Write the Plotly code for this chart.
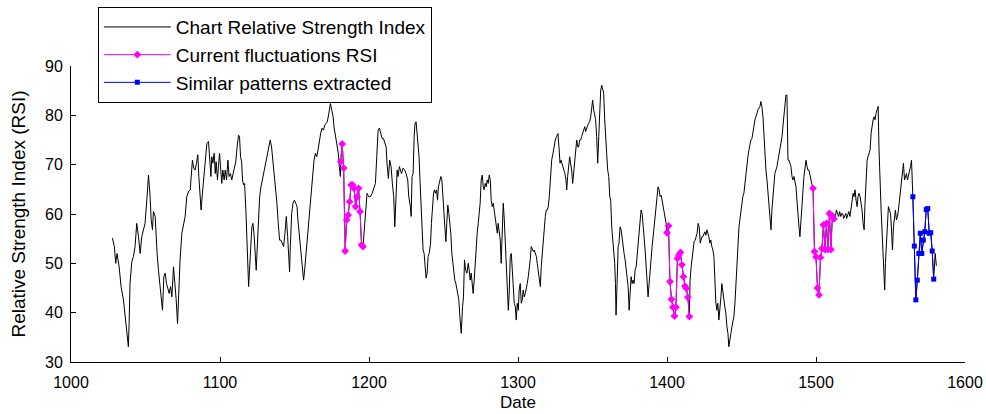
import plotly.graph_objects as go

# ---- data (date, RSI) ----
seg1 = [(1027.8,55.1),(1029.1,53.4),(1030.0,50.0),(1030.9,52.0),(1032.3,49.3),(1033.6,45.3),(1035.2,42.6),(1036.7,38.5),(1037.4,37.2),(1038.5,33.1),(1039.0,37.8),(1039.6,45.9),(1040.8,50.3),(1041.9,51.4),(1043.0,53.4),(1044.1,58.1),(1045.3,55.4),(1046.4,52.0),(1047.5,55.4),(1048.6,56.8),(1049.7,58.1),(1050.9,62.8),(1052.0,67.9),(1053.1,63.5),(1053.8,58.8),(1054.7,56.8),(1055.3,60.5),(1056.5,59.5),(1056.9,56.1),(1057.8,52.0),(1058.7,48.6),(1059.8,45.3),(1060.9,43.2),(1061.4,40.5),(1062.3,47.3),(1063.2,48.0),(1064.1,45.9),(1065.0,44.6),(1065.9,43.9),(1066.8,45.3),(1067.7,43.2),(1068.8,49.3),(1069.9,45.9),(1070.6,42.6),(1071.5,37.8),(1072.1,42.6),(1073.2,50.7),(1074.4,56.1),(1075.5,58.1),(1076.6,59.5),(1077.7,63.5),(1078.8,64.5),(1080.0,64.9),(1080.6,67.6),(1081.5,70.9),(1082.4,69.3),(1083.3,68.9),(1084.2,70.3),(1085.1,72.0),(1085.8,67.6),(1086.7,62.8),(1087.3,60.8),(1088.2,64.2),(1089.1,67.6),(1090.0,71.6),(1091.2,74.3),(1092.3,74.7),(1093.0,71.6),(1093.9,67.6),(1094.5,71.6),(1095.2,70.3),(1096.1,72.3),(1096.8,68.2),(1097.4,70.6),(1098.3,66.9),(1099.0,69.9),(1099.7,72.3),(1100.6,68.6),(1101.2,66.2),(1101.9,68.9),(1102.8,66.9),(1103.5,68.9),(1104.4,66.9),(1105.3,70.9),(1106.1,67.6),(1107.0,68.2),(1107.9,66.9),(1108.8,68.2),(1109.7,69.6),(1110.6,70.6),(1111.5,73.6),(1112.4,76.0),(1113.1,75.7),(1113.8,71.6),(1114.5,70.6),(1115.1,66.9),(1115.8,65.9),(1116.5,66.2),(1117.4,60.5),(1118.1,54.7),(1118.5,50.0),(1119.2,45.3),(1119.8,48.6),(1120.5,53.4),(1121.4,57.4),(1122.1,58.1),(1122.8,56.1),
        (1124.3,48.6),(1125.2,53.4),(1125.9,59.5),(1126.6,63.5),(1127.5,65.5),(1128.4,66.9),(1129.3,68.9),(1130.2,70.3),(1131.1,70.9),(1132.0,72.3),(1132.8,73.6),(1133.7,75.0),(1134.6,73.6),(1135.5,70.9),(1136.4,67.6),(1137.3,64.9),(1138.2,62.2),(1139.1,58.1),(1140.0,54.7),(1140.9,54.7),(1141.8,54.1),(1142.7,53.4),(1143.6,56.1),(1144.5,59.5),(1145.4,55.4),(1146.1,51.4),(1146.7,48.3),(1147.2,53.4),(1148.1,60.1),(1149.0,62.2),(1149.9,62.8),(1150.8,62.2),(1151.7,61.5),(1152.3,58.8),(1153.2,56.1),(1153.9,54.1),(1154.8,52.0),(1155.5,49.3),(1156.1,46.6),(1156.8,48.6),(1157.7,52.0),(1158.6,55.4),(1159.5,58.1),(1160.4,61.5),(1161.3,64.9),(1162.2,68.2),(1163.1,70.9),(1164.0,72.3),(1164.9,71.6),(1165.8,73.0),(1166.7,75.0),(1167.6,76.4),(1168.5,77.4),(1169.4,77.0),(1170.3,78.0),(1171.1,78.4),(1172.0,78.7),(1172.9,80.1),(1174.1,82.4),(1175.0,81.1),(1175.9,79.7),(1176.5,77.7),(1177.2,76.4),(1177.9,75.7),(1178.8,74.3),(1179.4,72.3),(1180.1,69.6),(1180.8,67.6)]

current1_date = [1181,1182,1183,1184,1185,1186,1187,1188,1189,1190,1191,1192,1193,1194,1195,1196]
current1_rsi = [70.6,74.2,69.3,52.5,58.8,59.8,62.5,65.9,65.9,65.2,61.5,63.5,65.2,60.5,53.7,53.4]

seg2 = [(1197.6,59.5),(1198.7,64.2),(1199.8,63.5),(1200.9,63.5),(1202.1,64.2),(1203.2,65.5),(1204.3,66.2),(1205.2,71.6),(1206.1,77.0),(1207.0,77.4),(1207.9,76.0),(1208.8,75.3),(1209.7,75.3),(1210.6,74.3),(1211.5,73.6),(1212.1,70.3),(1213.0,67.2),(1213.9,70.9),(1214.8,69.6),(1215.7,66.2),(1216.6,63.5),(1217.3,57.4),(1217.9,63.5),(1218.9,68.9),(1219.5,67.6),(1220.4,69.6),
        (1221.8,68.2),(1222.9,69.3),(1224.0,68.9),(1224.9,68.2),(1226.0,66.9),(1226.7,63.5),(1227.8,61.5),(1228.3,59.5),(1228.9,67.6),(1229.6,68.2),(1230.3,75.7),(1230.9,78.4),(1231.6,78.7),(1232.3,76.3),(1233.0,73.6),(1233.6,71.6),(1234.3,66.2),(1235.0,60.1),(1235.7,56.8),(1236.3,52.7),(1237.0,52.0),(1237.7,49.3),(1238.3,47.0),(1239.0,48.0),(1239.7,51.4),(1240.4,52.0),(1241.3,54.0),(1241.9,58.1),(1242.6,62.2),(1243.3,64.2),(1243.9,64.9),(1244.6,64.2),(1245.3,64.9),(1246.0,62.8),(1246.6,65.5),(1247.5,66.9),(1248.2,67.6),(1248.9,66.9),(1249.5,62.8),(1250.2,60.8),(1250.9,57.4),(1251.6,54.4),(1252.2,58.1),(1252.9,61.8),(1253.6,60.1),(1254.3,58.1),(1254.9,56.1),(1255.6,52.0),(1256.3,50.0),(1256.9,48.7),(1257.6,46.6),(1258.3,45.9),(1259.0,44.6),(1259.6,43.2),(1260.3,42.6),(1261.0,39.2),(1261.9,35.8),(1262.8,41.2),(1263.4,43.2),(1264.1,50.7),(1264.8,48.7),(1265.7,48.0),(1266.6,50.0),(1267.2,48.7),(1267.9,46.6),(1268.6,48.0),(1269.3,45.9),(1269.9,43.9),(1270.6,46.6),(1271.3,50.7),(1271.9,52.7),(1272.6,56.1),(1273.3,58.1),(1274.0,60.8),(1274.6,62.2),(1275.3,66.9),(1276.0,67.9),(1276.7,65.5),(1277.3,64.9),(1278.0,66.2),(1278.7,65.5),(1279.3,66.9),(1280.0,66.2),(1280.7,67.9),(1281.4,66.9),(1282.0,62.8),(1282.7,61.5),(1283.4,62.2),(1284.0,60.8),(1284.7,60.1),(1285.4,57.4),(1286.1,56.1),(1286.7,58.1),(1287.4,56.8),(1288.1,54.7),(1288.7,50.0),(1289.4,57.4),(1290.1,62.2),(1290.8,58.8),(1291.4,54.1),(1292.1,48.7),(1292.8,45.9),(1293.5,40.5),(1294.1,43.9),(1294.8,51.4),(1295.5,52.0),(1296.1,48.7),(1296.8,47.3),(1297.5,41.9),(1298.2,41.2),(1298.8,38.5),(1299.5,41.9),(1300.2,40.5),(1300.8,44.6),(1301.5,45.9),(1302.2,41.9),(1302.9,42.6),(1303.5,44.6),(1304.2,43.2),(1304.9,43.9),(1305.5,45.3),(1306.2,45.9),(1306.9,47.3),(1307.6,48.7),(1308.2,50.7),(1308.9,53.4),(1309.6,52.7),(1310.3,52.4),(1310.9,52.7),(1311.6,52.0),(1312.3,51.4),(1312.9,50.0),(1313.6,48.0),(1314.3,46.6),(1315.0,45.3),(1315.6,49.3),(1316.3,52.7),(1317.0,54.1),(1317.6,56.8),(1318.3,59.5),(1319.0,60.8),(1319.7,60.8),(1320.3,61.5),(1321.0,63.5),(1321.7,66.2),
        (1322.6,70.9),(1323.5,72.3),(1324.2,73.6),(1325.0,75.0),(1325.9,75.7),(1326.8,76.3),(1327.5,73.6),(1328.2,70.3),(1328.9,70.9),(1329.5,70.3),(1330.2,69.6),(1330.9,68.9),(1331.5,68.2),(1332.2,66.9),(1332.7,64.9),(1333.3,67.6),(1334.0,69.6),(1334.7,71.6),(1335.3,70.3),(1336.0,68.9),(1336.7,66.2),(1337.4,68.9),(1338.0,70.9),(1338.7,73.0),(1339.4,75.0),(1340.1,73.6),(1340.7,73.6),(1341.4,75.0),(1342.1,75.0),(1342.7,75.7),(1343.4,76.3),(1344.1,77.0),(1344.8,77.7),(1345.4,76.7),(1346.1,77.7),(1346.8,78.0),(1347.4,78.4),(1348.1,78.7),(1348.8,79.7),(1349.5,81.1),(1350.1,83.1),(1350.8,81.1),(1351.5,79.7),(1352.1,79.1),(1352.8,75.7),(1353.5,70.3),(1354.2,75.7),(1354.8,82.4),(1355.5,85.1),(1356.2,86.1),(1356.9,84.8),(1357.5,84.5),(1358.2,79.1),(1358.9,74.3),(1359.5,72.3),(1360.2,68.9),(1360.9,67.6),(1361.6,63.5),(1362.2,62.8),(1362.9,57.4),(1363.6,54.7),(1364.2,51.4),(1364.9,50.0),(1365.4,45.9),(1365.8,39.5),(1366.5,45.9),(1367.2,53.4),(1367.8,54.1),(1368.5,57.4),(1369.2,56.8),(1369.9,54.7),(1370.5,52.7),(1371.2,52.0),(1371.9,50.7),(1372.5,48.7),(1373.2,47.3),(1373.9,45.3),(1374.6,40.5),(1375.2,43.9),(1375.9,47.3),(1376.6,45.9),(1377.2,46.6),(1377.9,45.9),(1378.6,48.7),(1379.3,49.3),(1379.9,51.4),(1380.6,54.1),(1381.3,56.8),(1381.9,58.8),(1382.6,60.8),(1383.3,60.1),(1384.0,58.1),(1384.6,55.4),(1385.3,52.7),(1386.0,49.3),(1386.6,45.9),(1387.3,43.2),(1388.0,45.9),(1388.7,49.3),(1389.3,51.4),(1390.0,53.4),(1390.7,55.4),(1391.4,57.4),(1392.0,59.5),(1392.7,61.5),(1393.4,63.5),(1394.0,65.5),(1394.7,64.9),(1395.4,63.5),(1396.1,63.8),(1396.7,62.8),(1397.4,62.2),(1398.1,60.8),(1398.7,59.5),(1399.4,58.1)]

current2_date = [1400,1401,1402,1403,1404,1405,1406,1407,1408,1409,1410,1411,1412,1413,1414,1415]
current2_rsi = [56.2,57.6,46.3,42.7,41.1,39.3,41.1,51.0,51.7,52.2,49.7,47.3,45.4,44.9,43.1,39.2]

seg3 = [(1415.5,46.6),(1416.2,49.3),(1416.9,51.4),(1417.6,53.4),(1418.2,54.4),(1418.9,54.7),(1419.6,55.4),(1420.2,56.1),(1420.9,58.1),(1421.6,57.4),(1422.3,54.1),
        (1423.4,55.4),(1424.1,55.4),(1424.7,56.1),(1425.4,56.4),(1426.1,55.7),(1426.8,56.8),(1427.4,56.1),(1428.1,55.4),(1428.8,54.1),(1429.4,54.7),(1430.1,53.4),(1430.8,52.7),(1431.5,51.4),(1432.1,45.9),(1432.8,41.9),(1433.5,40.5),(1434.1,41.9),(1434.8,38.5),(1435.5,40.5),(1436.2,43.2),(1436.8,45.9),(1437.5,44.6),(1438.2,42.6),(1438.8,41.2),(1439.5,39.9),(1440.2,37.2),(1440.9,35.8),(1441.5,33.1),(1442.2,35.1),(1442.9,35.8),(1443.6,37.2),(1444.2,37.9),(1444.9,39.2),(1445.6,41.9),(1446.2,45.9),(1446.9,50.7),(1447.6,54.1),(1448.3,57.4),(1448.9,58.8),(1449.6,60.8),(1450.3,61.5),(1450.9,63.5),(1451.6,64.2),(1452.3,66.2),(1453.0,68.9),(1453.6,70.3),(1454.3,71.6),(1455.0,73.0),(1455.7,74.3),(1456.3,75.0),(1457.0,75.3),(1457.7,76.3),(1458.3,77.7),(1459.0,79.1),(1459.7,80.1),(1460.4,80.4),(1461.0,81.1),(1461.7,81.4),(1462.4,81.8),(1463.0,82.8),(1463.7,81.8),(1464.4,79.7),(1465.1,75.7),(1465.7,71.6),(1466.4,68.9),(1467.1,66.9),(1467.7,64.2),(1468.4,62.2),(1469.1,60.1),(1469.8,56.8),(1470.4,60.8),(1471.1,64.2),(1471.8,66.9),(1472.4,68.2),(1473.1,68.9),(1473.8,69.6),(1474.5,70.9),(1475.1,71.9),(1475.8,73.0),(1476.5,74.3),(1477.2,75.7),(1477.8,77.7),(1478.5,79.7),(1479.2,83.1),(1479.8,84.1),(1480.5,84.1),(1481.2,70.9),(1481.9,70.9),(1482.5,70.3),(1483.2,69.6),(1483.9,67.6),(1484.5,66.9),(1485.2,67.6),(1485.9,66.2),(1486.6,65.5),(1487.2,62.8),(1487.9,60.8),(1488.6,57.4),(1489.2,55.4),(1489.9,59.5),(1490.6,62.2),(1491.3,64.9),(1491.9,67.6),(1492.6,69.6),(1493.3,70.9),(1494.0,69.6),(1494.6,68.9),(1495.3,68.9),(1496.0,67.6),(1496.6,66.9),(1497.3,65.9)]

current3_date = [1498,1499,1500,1501,1502,1503,1504,1505,1506,1507,1508,1509,1510,1511,1512]
current3_rsi = [65.2,52.4,51.3,45.0,43.6,51.2,53.0,57.8,52.8,58.1,52.8,60.1,52.8,59.6,59.0]

seg4 = [(1513.0,59.5),(1513.7,60.8),(1514.6,60.1),(1515.2,59.5),(1515.9,60.5),(1516.6,59.5),(1517.3,60.1),(1517.9,60.1),(1518.6,59.1),(1519.3,59.5),(1520.0,60.1),(1520.6,59.1),(1521.3,59.8),(1522.0,60.5),(1522.8,59.5),(1523.5,60.8),(1524.2,62.2),(1524.9,64.2),(1525.5,63.5),(1526.2,64.9),(1526.9,62.8),(1527.6,61.5),(1528.2,63.5),(1528.9,64.2),(1529.6,63.5),(1530.2,62.2),(1530.9,60.8),(1531.6,58.1),(1532.3,56.8),(1532.9,62.2),(1533.6,68.2),(1534.3,70.9),(1534.9,71.6),(1535.6,72.3),(1536.3,73.0),(1537.0,76.4),(1537.6,78.4),(1538.3,79.1),(1539.0,79.7),(1539.6,79.1),(1540.3,80.4),(1541.0,81.1),(1541.7,81.8),(1542.3,73.0),(1543.0,64.9),(1543.7,60.8),(1544.4,56.1),(1545.0,51.4),(1545.7,48.7),(1546.1,44.6),(1546.6,50.0),(1547.3,54.1),(1547.9,58.8),(1548.6,61.5),(1549.3,60.8),(1550.0,60.1),(1550.6,57.4),(1551.3,52.7),(1552.0,57.4),(1552.6,59.5),(1553.3,60.8),(1554.0,58.8),(1554.7,59.5),(1555.3,60.8),(1556.0,62.8),(1556.7,64.9),(1557.3,66.9),(1558.0,68.9),(1558.7,70.3),(1559.4,66.9),(1560.0,67.6),(1560.7,68.2),(1561.4,66.9),(1562.0,67.6),(1562.7,68.9),(1563.4,69.6),(1564.1,70.9),(1564.7,66.9)]

similar_date = [1565,1566,1567,1568,1569,1570,1571,1572,1573,1574,1575,1576,1577,1578,1579]
similar_rsi = [63.5,53.5,42.6,46.6,52.0,56.1,52.0,54.7,56.4,60.9,61.1,56.1,56.2,52.5,46.8]

seg5 = [(1580.0,52.0),(1580.8,49.5)]

x_ticks = [1000, 1100, 1200, 1300, 1400, 1500, 1600]
y_ticks = [30, 40, 50, 60, 70, 80, 90]

# ---- build the full chart series ----
def pairs_to_xy(p):
    return [a for a, _ in p], [b for _, b in p]

chart_x, chart_y = [], []
for part in [pairs_to_xy(seg1), (current1_date, current1_rsi), pairs_to_xy(seg2),
             (current2_date, current2_rsi), pairs_to_xy(seg3), (current3_date, current3_rsi),
             pairs_to_xy(seg4), (similar_date, similar_rsi), pairs_to_xy(seg5)]:
    chart_x += list(part[0])
    chart_y += list(part[1])

cur_x = current1_date + [None] + current2_date + [None] + current3_date
cur_y = current1_rsi + [None] + current2_rsi + [None] + current3_rsi

FONT = "Liberation Sans, Arial, sans-serif"

fig = go.Figure()
fig.add_trace(go.Scatter(x=chart_x, y=chart_y, mode="lines",
                         line=dict(color="black", width=1),
                         name="Chart Relative Strength Index", legendgroup="a"))
fig.add_trace(go.Scatter(x=cur_x, y=cur_y, mode="lines+markers",
                         line=dict(color="#FF00FF", width=1),
                         marker=dict(color="#FF00FF", size=6, symbol="diamond"),
                         connectgaps=False,
                         name="Current fluctuations RSI", legendgroup="b"))
fig.add_trace(go.Scatter(x=similar_date, y=similar_rsi, mode="lines+markers",
                         line=dict(color="#0000FF", width=1),
                         marker=dict(color="#0000FF", size=5, symbol="square"),
                         name="Similar patterns extracted", legendgroup="c"))

axis_common = dict(showline=True, linecolor="black", linewidth=1, mirror=False,
                   ticks="inside", ticklen=5, tickcolor="black", tickwidth=1,
                   showgrid=False, zeroline=False, automargin=False,
                   tickfont=dict(family=FONT, size=16, color="black"))

fig.update_layout(
    width=986, height=414,
    margin=dict(l=71, r=21, t=66, b=52, autoexpand=False),
    paper_bgcolor="white", plot_bgcolor="white",
    font=dict(family=FONT, color="black"),
    xaxis=dict(range=[1000, 1600], tickmode="array",
               tickvals=x_ticks, ticktext=[str(v) for v in x_ticks],
               title=dict(text="Date", font=dict(family=FONT, size=17), standoff=5),
               ticklabelstandoff=6,
               **axis_common),
    yaxis=dict(range=[30, 90], tickmode="array",
               tickvals=y_ticks, ticktext=[str(v) for v in y_ticks],
               title=dict(text="Relative Strength Index (RSI)", font=dict(family=FONT, size=19), standoff=14),
               ticklabelstandoff=4,
               **axis_common),
    showlegend=True,
    legend=dict(x=0.030, y=1.199, xanchor="left", yanchor="top",
                bgcolor="white", bordercolor="black", borderwidth=1,
                font=dict(family=FONT, size=19, color="black"),
                itemwidth=67, tracegroupgap=0, traceorder="normal"),
)

fig.write_html("out.html", config={"displayModeBar": False},
               post_script="document.body.style.margin='0px';")
